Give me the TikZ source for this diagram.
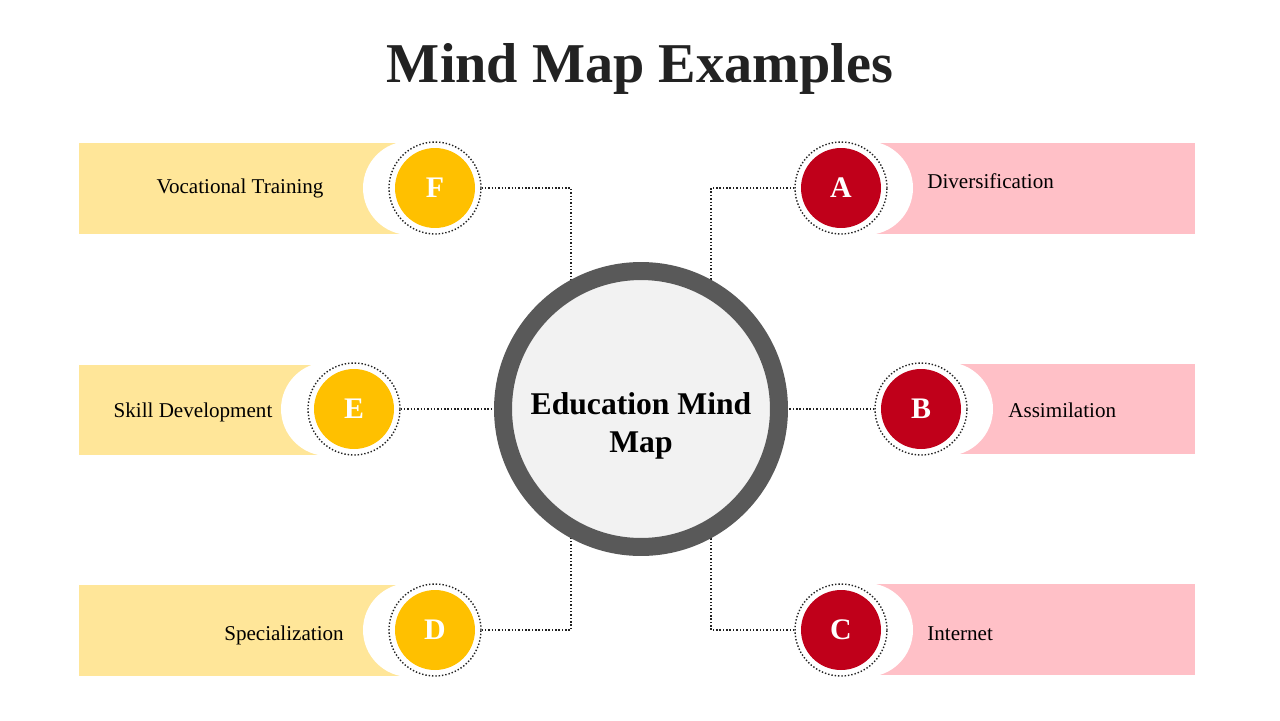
\documentclass[tikz,border=0pt]{standalone}
\usepackage{fontspec}
\setmainfont{Liberation Serif}
\usetikzlibrary{positioning,calc}
\definecolor{barYellow}{HTML}{FFE699}
\definecolor{barPink}{HTML}{FFC0C7}
\definecolor{dotYellow}{HTML}{FFC000}
\definecolor{dotRed}{HTML}{C0001A}
\definecolor{hubRing}{HTML}{595959}
\definecolor{hubFill}{HTML}{F2F2F2}
\definecolor{inkDark}{HTML}{222222}

\begin{document}
\begin{tikzpicture}[
			x=0.02cm, y=-0.02cm,
			ringnode/.style={circle, draw=inkDark, line width=0.8pt, dash pattern=on 0.8pt off 1.1pt, fill=white, minimum size=1.84cm, inner sep=0pt},
			letter/.style={circle, minimum size=1.6cm, inner sep=0pt, text=white, font=\bfseries\fontsize{17}{20}\selectfont},
			lbl/.style={anchor=base, inner sep=0pt, font=\fontsize{12}{14}\selectfont, text=black},
			link/.style={draw=inkDark, line width=0.8pt, dash pattern=on 0.8pt off 1.1pt},
			hubnode/.style={circle, draw=hubRing, line width=0.36cm, fill=hubFill, minimum size=5.52cm},
			hubtext/.style={align=center, font=\bfseries\fontsize{18}{21.5}\selectfont}
			]
			\useasboundingbox (0,0) rectangle (1280,720);
			
			\node[anchor=base, font=\bfseries\fontsize{32}{38}\selectfont, text=inkDark] (title) at (640,82) {Mind Map Examples};
			
			% side bars
			\fill[barYellow] (79,143) rectangle (412,234);
			\fill[barYellow] (79,365) rectangle (331,455);
			\fill[barYellow] (79,585) rectangle (412,676);
			\fill[barPink] (864,143) rectangle (1195,234);
			\fill[barPink] (944,364) rectangle (1195,454);
			\fill[barPink] (864,584) rectangle (1195,675);
			
			% white cut-outs
			\fill[white] (410,188) circle (0.94cm);
			\fill[white] (328,409) circle (0.94cm);
			\fill[white] (410,630) circle (0.94cm);
			\fill[white] (866,188) circle (0.94cm);
			\fill[white] (946,409) circle (0.94cm);
			\fill[white] (866,630) circle (0.94cm);
			
			% letter circles
			\node[ringnode] (ringF) at (435,188) {};
			\node[ringnode] (ringE) at (354,409) {};
			\node[ringnode] (ringD) at (435,630) {};
			\node[ringnode] (ringA) at (841,188) {};
			\node[ringnode] (ringB) at (921,409) {};
			\node[ringnode] (ringC) at (841,630) {};
			\node[letter, fill=dotYellow] (F) at (ringF) {F};
			\node[letter, fill=dotYellow] (E) at (ringE) {E};
			\node[letter, fill=dotYellow] (D) at (ringD) {D};
			\node[letter, fill=dotRed] (A) at (ringA) {A};
			\node[letter, fill=dotRed] (B) at (ringB) {B};
			\node[letter, fill=dotRed] (C) at (ringC) {C};
			
			% labels
			\node[lbl] (tF) at (240,193) {Vocational Training};
			\node[lbl] (tE) at (193,417) {Skill Development};
			\node[lbl] (tD) at (284,640) {Specialization};
			\node[lbl, anchor=base west] (tA) at (927,188) {Diversification};
			\node[lbl, anchor=base west] (tB) at (1008,417) {Assimilation};
			\node[lbl, anchor=base west] (tC) at (927,640) {Internet};
			
			% connectors (hub drawn on top)
			\coordinate (mid) at (641,409);
			\draw[link] (ringF.east) -| ($(mid)+(-70,0)$);
			\draw[link] (ringD.east) -| ($(mid)+(-70,0)$);
			\draw[link] (ringA.west) -| ($(mid)+(70,0)$);
			\draw[link] (ringC.west) -| ($(mid)+(70,0)$);
			\draw[link] (ringE.east) -- (mid);
			\draw[link] (ringB.west) -- (mid);
			
			\node[hubnode] (hub) at (mid) {};
			\node[hubtext] (hubT) at ($(mid)+(0,17)$) {Education Mind\\Map};
		\end{tikzpicture}
\end{document}
